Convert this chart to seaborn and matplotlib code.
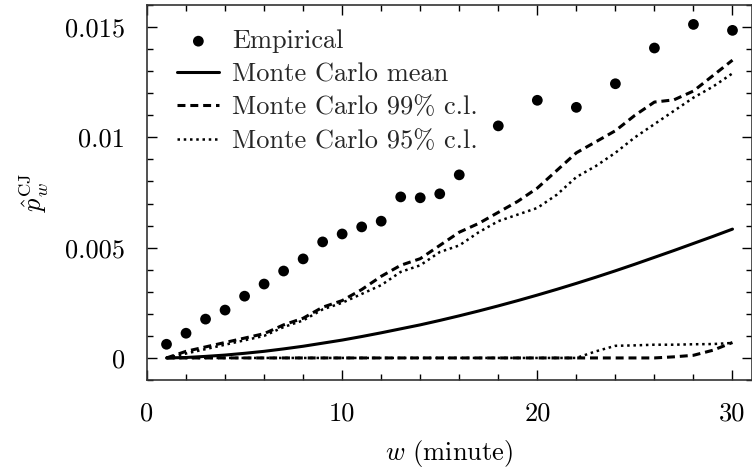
import numpy as np
import pandas as pd
import matplotlib
matplotlib.use("Agg")
import matplotlib.pyplot as plt
import seaborn as sns

# ---- data -------------------------------------------------------------
emp_w = [1, 2, 3, 4, 5, 6, 7, 8, 9, 10, 11, 12, 13, 14, 15, 16,
         18, 20, 22, 24, 26, 28, 30]
emp_p = [0.00062, 0.00112, 0.00176, 0.00217, 0.00280, 0.00335, 0.00394,
         0.00449, 0.00526, 0.00562, 0.00594, 0.00620, 0.00730, 0.00726,
         0.00744, 0.00830, 0.01052, 0.01168, 0.01136, 0.01243, 0.01405,
         0.01512, 0.01485]

mc_w = list(range(1, 31))
mc_mean = [0.00000, 0.00002, 0.00007, 0.00013, 0.00021, 0.00030, 0.00041,
           0.00053, 0.00067, 0.00081, 0.00097, 0.00114, 0.00132, 0.00150,
           0.00170, 0.00191, 0.00213, 0.00236, 0.00260, 0.00285, 0.00311,
           0.00338, 0.00366, 0.00395, 0.00425, 0.00456, 0.00487, 0.00519,
           0.00551, 0.00584]
mc_99_hi = [0.0000, 0.0003, 0.0005, 0.0007, 0.0009, 0.0011, 0.0015, 0.0018,
            0.0023, 0.0026, 0.0031, 0.0037, 0.0042, 0.0045, 0.0051, 0.0057,
            0.0061, 0.0066, 0.0071, 0.0077, 0.0085, 0.0093, 0.0098, 0.0103,
            0.0110, 0.0116, 0.0117, 0.0121, 0.0128, 0.0135]
mc_95_hi = [0.0000, 0.0002, 0.0004, 0.0006, 0.0008, 0.0010, 0.0014, 0.0017,
            0.0022, 0.0025, 0.0029, 0.0033, 0.0039, 0.0042, 0.0048, 0.0051,
            0.0057, 0.0062, 0.0065, 0.0068, 0.0074, 0.0082, 0.0087, 0.0093,
            0.0100, 0.0106, 0.0112, 0.0118, 0.0123, 0.0129]
mc_99_lo = [0.0] * 26 + [0.00005, 0.00012, 0.00035, 0.00070]
mc_95_lo = [0.0] * 22 + [0.00030, 0.00055, 0.00057, 0.00060, 0.00060,
                         0.00062, 0.00063, 0.00068]

x_ticks = [0, 10, 20, 30]
x_ticklabels = ["0", "10", "20", "30"]
y_ticks = [0, 0.005, 0.01, 0.015]
y_ticklabels = ["0", "0.005", "0.01", "0.015"]

# ---- style ------------------------------------------------------------
sns.set_theme(style="ticks")
plt.rcParams["font.family"] = ["cmr10", "DejaVu Serif"]
plt.rcParams["mathtext.fontset"] = "cm"
plt.rcParams["axes.formatter.use_mathtext"] = True
plt.rcParams["axes.unicode_minus"] = False

emp = pd.DataFrame({"w": emp_w, "p": emp_p})
mc = pd.DataFrame({"w": mc_w, "mean": mc_mean, "hi99": mc_99_hi,
                   "hi95": mc_95_hi, "lo99": mc_99_lo, "lo95": mc_95_lo})

fig = plt.figure(figsize=(7.52, 4.73), dpi=100)
ax = fig.add_axes([147 / 752, 93 / 473, 605 / 752, 375 / 473])

FS = 19
dash = (0, (2.6, 1.6))
dot = (0, (1.0, 1.5))

sns.scatterplot(data=emp, x="w", y="p", ax=ax, color="black", s=60,
                edgecolor="none", label="Empirical", zorder=3)
sns.lineplot(data=mc, x="w", y="mean", ax=ax, color="black", lw=2.2,
             label="Monte Carlo mean")
sns.lineplot(data=mc, x="w", y="hi99", ax=ax, color="black", lw=2.2,
             linestyle=dash, label="Monte Carlo 99% c.l.")
sns.lineplot(data=mc, x="w", y="hi95", ax=ax, color="black", lw=1.8,
             linestyle=dot, label="Monte Carlo 95% c.l.")
sns.lineplot(data=mc, x="w", y="lo99", ax=ax, color="black", lw=2.2,
             linestyle=dash, legend=False)
sns.lineplot(data=mc, x="w", y="lo95", ax=ax, color="black", lw=1.8,
             linestyle=dot, legend=False)

ax.set_xlim(0, 31)
ax.set_ylim(-0.001, 0.016)
ax.set_xticks(x_ticks)
ax.set_xticklabels(x_ticklabels)
ax.set_yticks(y_ticks)
ax.set_yticklabels(y_ticklabels)
ax.set_xticks(np.arange(0, 31, 2), minor=True)
ax.set_yticks(np.arange(-0.001, 0.0161, 0.001), minor=True)
ax.tick_params(which="both", direction="in", top=True, right=True,
               colors="black", width=1.0)
ax.tick_params(which="major", length=7, labelsize=FS, pad=16)
ax.tick_params(which="minor", length=4.5)
for sp in ax.spines.values():
    sp.set_visible(True)
    sp.set_color("#333333")
    sp.set_linewidth(1.2)

ax.set_xlabel(r"$w$ (minute)", fontsize=FS, labelpad=9, color="black")
ax.set_ylabel(r"$\hat{p}_w^{\mathrm{CJ}}$", fontsize=FS, labelpad=10,
              color="black")

leg = ax.legend(loc="upper left", bbox_to_anchor=(0.05, 0.935),
                frameon=False, fontsize=FS, handlelength=1.6,
                handletextpad=0.48, labelspacing=0.36, borderpad=0,
                borderaxespad=0, scatterpoints=1)

fig.savefig("out.png", dpi=100)
